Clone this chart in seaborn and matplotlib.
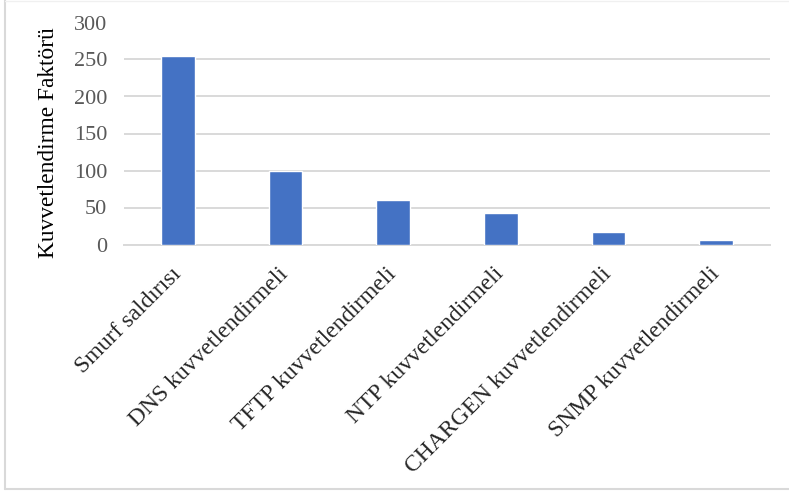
import matplotlib
matplotlib.use("Agg")
import matplotlib.pyplot as plt
import seaborn as sns
import pandas as pd
from matplotlib.lines import Line2D

categories = [
    "Smurf saldırısı",
    "DNS kuvvetlendirmeli",
    "TFTP kuvvetlendirmeli",
    "NTP kuvvetlendirmeli",
    "CHARGEN kuvvetlendirmeli",
    "SNMP kuvvetlendirmeli",
]
factors = [255, 100, 60, 43, 17, 6]
y_ticks = [0, 50, 100, 150, 200, 250, 300]
y_label = "Kuvvetlendirme Faktörü"

sns.set_theme(style="white")
plt.rcParams["font.family"] = ["Liberation Serif", "DejaVu Serif"]

df = pd.DataFrame({"kategori": categories, "faktor": factors})

fig = plt.figure(figsize=(7.89, 4.93), dpi=100)
ax = fig.add_axes([124 / 789, 1 - 244.5 / 493, (770 - 124) / 789, (244.5 - 22.5) / 493])

sns.barplot(data=df, x="kategori", y="faktor", color="#4472C4", width=0.31,
            saturation=1, ax=ax, zorder=3)

ax.set_ylim(0, 300)
ax.set_yticks(y_ticks)
ax.set_xlim(-0.5, len(categories) - 0.5)
ax.yaxis.grid(True, color="#d9d9d9", linewidth=1.4, zorder=0)
ax.xaxis.grid(False)
for side in ["left", "right", "top"]:
    ax.spines[side].set_visible(False)
ax.spines["bottom"].set_color("#d9d9d9")
ax.spines["bottom"].set_linewidth(1.4)

ax.tick_params(axis="y", length=0, pad=12, labelsize=16, labelcolor="#595959")
ax.tick_params(axis="x", length=0, pad=19, labelsize=17, labelcolor="#262626")
plt.setp(ax.get_xticklabels(), rotation=45, ha="right", va="center",
         rotation_mode="anchor")

ax.set_xlabel("")
ax.set_ylabel(y_label, fontsize=16.8, color="#000000")
ax.yaxis.set_label_coords(-0.101, 0.46)

# light frame around the chart
frame_color = "#d9d9d9"
fig.add_artist(Line2D([5 / 789, 5 / 789], [1 - 489 / 493, 1.0], transform=fig.transFigure,
                      color=frame_color, linewidth=1.5))
fig.add_artist(Line2D([5 / 789, 1.0], [1 - 489 / 493, 1 - 489 / 493], transform=fig.transFigure,
                      color=frame_color, linewidth=1.5))
fig.add_artist(Line2D([5 / 789, 1.0], [1 - 1 / 493, 1 - 1 / 493], transform=fig.transFigure,
                      color="#f0f0f0", linewidth=1.0))

fig.savefig("out.png", dpi=100)
